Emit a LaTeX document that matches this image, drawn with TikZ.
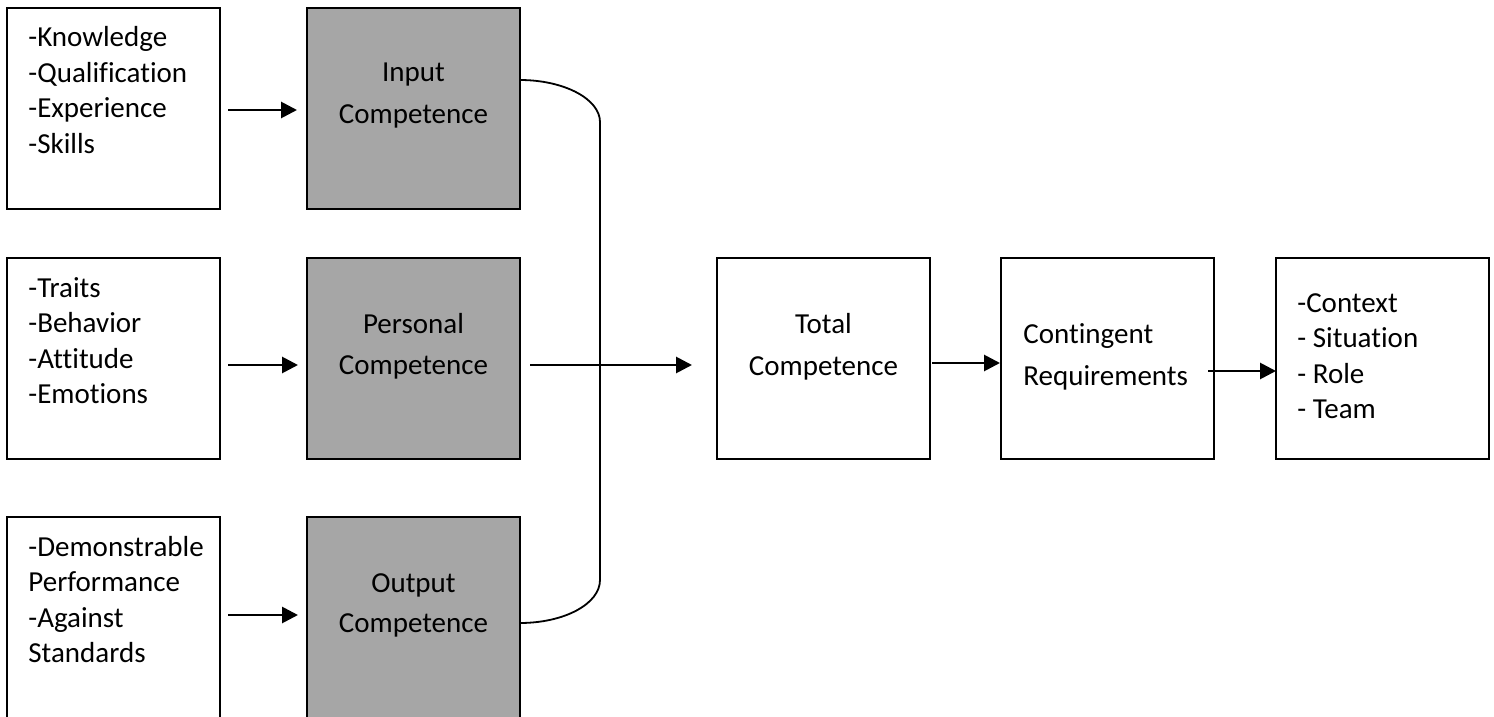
\documentclass[tikz,border=0pt]{standalone}
\usepackage{fontspec}
\setmainfont{Carlito}[Ligatures=NoCommon]
\usepackage{tikz}
\usetikzlibrary{calc}
\usetikzlibrary{arrows.meta}
\newcommand{\cmplistskip}{35.5}
\newcommand{\cmpboxwd}{106.5pt}
\newcommand{\cmpboxht}{100.5pt}
\definecolor{cmpgray}{HTML}{A6A6A6}
\tikzstyle{cmpbox}=[draw=black,line width=1pt,minimum width=\cmpboxwd,minimum height=\cmpboxht,inner sep=0pt,outer sep=0pt,anchor=north west]
\tikzstyle{cmpgreybox}=[cmpbox,fill=cmpgray]
\tikzstyle{cmptext}=[inner sep=0pt,anchor=base west,font=\fontsize{14.5pt}{17.75pt}\selectfont]
\tikzstyle{cmpmidtext}=[cmptext,anchor=base]
\tikzstyle{cmparrow}=[draw=black,line width=1.4pt,-{Triangle[length=8pt,width=8pt]}]
\tikzstyle{cmpbrace}=[draw=black,line width=0.9pt]

\begin{document}
\begin{tikzpicture}[x=0.5pt,y=-0.5pt]
  \useasboundingbox (0,0) rectangle (1494,717);
  % left column
  \node[cmpbox] (know) at (7,8) {};
  \node[cmpbox] (trait) at (7,258) {};
  \node[cmpbox, minimum height=120pt] (perf) at (7,517) {};
  % competence column
  \node[cmpgreybox] (input) at (307,8) {};
  \node[cmpgreybox] (personal) at (307,258) {};
  \node[cmpgreybox, minimum height=120pt] (output) at (307,517) {};
  % right row
  \node[cmpbox] (total) at (717,258) {};
  \node[cmpbox] (contingent) at (1001,258) {};
  \node[cmpbox] (context) at (1276,258) {};
  % list texts
  \foreach \t [count=\i] in {-Knowledge,-Qualification,-Experience,-Skills}
    \node[cmptext] (know\i) at ($(know.north west)+(21,{39+\cmplistskip*(\i-1)})$) {\t};
  \foreach \t [count=\i] in {-Traits,-Behavior,-Attitude,-Emotions}
    \node[cmptext] (trait\i) at ($(trait.north west)+(21,{39+\cmplistskip*(\i-1)})$) {\t};
  \foreach \t [count=\i] in {-Demonstrable,Performance,-Against,Standards}
    \node[cmptext] (perf\i) at ($(perf.north west)+(21,{39+\cmplistskip*(\i-1)})$) {\t};
  \foreach \t [count=\i] in {-Context,- Situation,- Role,- Team}
    \node[cmptext] (context\i) at ($(context.north west)+(21,{54+\cmplistskip*(\i-1)})$) {\t};
  % box titles
  \node[cmpmidtext] (input1) at ($(input.north)+(0,74)$) {Input};
  \node[cmpmidtext] (input2) at ($(input.north)+(0,116)$) {Competence};
  \node[cmpmidtext] (personal1) at ($(personal.north)+(0,75)$) {Personal};
  \node[cmpmidtext] (personal2) at ($(personal.north)+(0,116)$) {Competence};
  \node[cmpmidtext] (output1) at ($(output.north)+(0,75)$) {Output};
  \node[cmpmidtext] (output2) at ($(output.north)+(0,115)$) {Competence};
  \node[cmpmidtext] (total1) at ($(total.north)+(0,75)$) {Total};
  \node[cmpmidtext] (total2) at ($(total.north)+(0,117)$) {Competence};
  \node[cmptext] (contingent1) at ($(contingent.north west)+(22,85)$) {Contingent};
  \node[cmptext] (contingent2) at ($(contingent.north west)+(22,127)$) {Requirements};
  % arrows
  \draw[cmparrow, shorten <=4pt, shorten >=5pt] ($(know.north east)+(0,102)$) -- ($(input.north west)+(0,102)$);
  \draw[cmparrow, shorten <=4pt, shorten >=4.5pt] ($(trait.north east)+(0,107)$) -- ($(personal.north west)+(0,107)$);
  \draw[cmparrow, shorten <=4pt, shorten >=4.5pt] ($(perf.north east)+(0,98)$) -- ($(output.north west)+(0,98)$);
  \draw[cmparrow, shorten <=5pt, shorten >=12.5pt] ($(personal.north east)+(0,107)$) -- ($(total.north west)+(0,107)$);
  \draw[cmparrow, shorten <=1pt, shorten >=0.5pt] ($(total.north east)+(0,105)$) -- ($(contingent.north west)+(0,105)$);
  \draw[cmparrow, shorten <=-3pt] ($(contingent.north east)+(0,113)$) -- ($(context.north west)+(0,113)$);
  % brace
  \coordinate (bracetop) at (600,122);
  \coordinate (bracebot) at (600,580);
  \draw[cmpbrace] ($(input.north east)+(0,72)$) .. controls +(44,0) and +(0,-23) .. (bracetop)
    -- (bracebot) .. controls +(0,24) and +(44,0) .. ($(output.north east)+(0,106)$);
\end{tikzpicture}
\end{document}
